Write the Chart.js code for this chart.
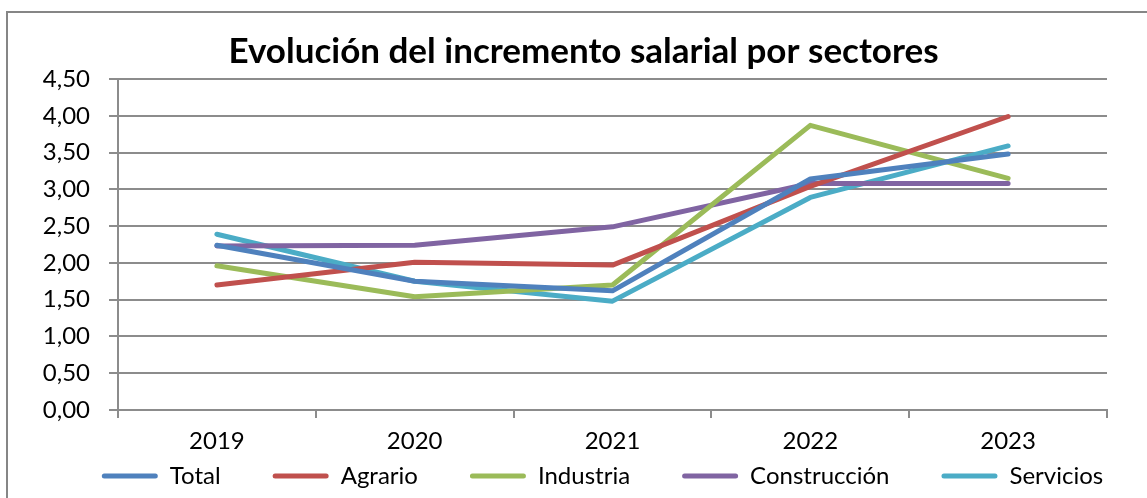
<!DOCTYPE html>
<html>
<head>
<meta charset="utf-8">
<script src="https://cdn.jsdelivr.net/npm/chart.js@4/dist/chart.umd.min.js"></script>
<style>
  html, body { margin: 0; padding: 0; background: #fff; }
  #frame { position: absolute; left: 6px; top: 11px; width: 1160px; height: 520px;
           border-left: 2px solid #868686; border-top: 2px solid #868686; }
  #wrap { position: absolute; left: 0; top: 0; width: 1147px; height: 498px; }
</style>
</head>
<body>
<div id="frame"></div>
<div id="wrap"><canvas id="c"></canvas></div>
<script>
const categories = ['2019', '2020', '2021', '2022', '2023'];
const seriesNames = ['Total', 'Agrario', 'Industria', 'Construcción', 'Servicios'];
const total        = [2.24, 1.75, 1.62, 3.14, 3.48];
const agrario      = [1.70, 2.01, 1.97, 3.04, 3.99];
const industria    = [1.96, 1.54, 1.70, 3.87, 3.15];
const construccion = [2.23, 2.24, 2.49, 3.08, 3.08];
const servicios    = [2.39, 1.75, 1.48, 2.89, 3.59];
const colors = ['#4F81BD', '#C0504D', '#9BBB59', '#8064A2', '#4BACC6'];
const titleText = 'Evolución del incremento salarial por sectores';

const values = [total, agrario, industria, construccion, servicios];
const FONT = 'Lato, "Liberation Sans", sans-serif';
const GRID = '#8c8c8c';
const LEGEND_PAD = 52;
const LEGEND_FONT = 24;

// Places the (library-drawn) title and legend row.
const blockPlacer = {
  id: 'blockPlacer',
  afterLayout(chart) {
    const tb = chart.titleBlock;
    if (tb) { tb.left += 30; tb.right += 30; }
    const lg = chart.legend;
    if (!lg) return;
    const dx = 49;
    lg.left += dx; lg.right += dx;
    const centerY = 476;
    lg.top = centerY - LEGEND_FONT / 2 - LEGEND_PAD;
  }
};

new Chart(document.getElementById('c'), {
  type: 'line',
  data: {
    labels: categories,
    datasets: seriesNames.map((n, i) => ({
      label: n,
      data: values[i],
      borderColor: colors[i],
      backgroundColor: colors[i],
      borderWidth: 5,
      borderCapStyle: 'round',
      borderJoinStyle: 'round',
      pointRadius: 0,
      tension: 0
    }))
  },
  plugins: [blockPlacer],
  options: {
    responsive: true,
    maintainAspectRatio: false,
    animation: false,
    layout: { padding: { left: 0, right: 40, top: 0, bottom: 0 } },
    plugins: {
      title: {
        display: true,
        text: titleText,
        color: '#000',
        font: { family: FONT, size: 35, weight: 'bold' },
        padding: { top: 31, bottom: 6 }
      },
      legend: {
        position: 'bottom',
        maxHeight: 40,
        labels: {
          color: '#000',
          font: { family: FONT, size: LEGEND_FONT },
          boxWidth: 56,
          boxHeight: 5,
          padding: LEGEND_PAD,
          generateLabels: (chart) => chart.data.datasets.map((d, i) => ({
            text: d.label,
            fillStyle: d.borderColor,
            strokeStyle: d.borderColor,
            lineWidth: 0,
            borderRadius: 2.5,
            datasetIndex: i,
            hidden: false,
            fontColor: '#000'
          }))
        }
      },
      tooltip: { enabled: false }
    },
    scales: {
      x: {
        offset: true,
        grid: { offset: true, drawOnChartArea: false, drawTicks: true, tickLength: 8, color: GRID, lineWidth: 2 },
        border: { color: GRID, width: 2 },
        ticks: { color: '#000', font: { family: FONT, size: 24 }, padding: 9 },
        afterFit: (s) => { s.height = 48; }
      },
      y: {
        min: 0, max: 4.5,
        ticks: {
          stepSize: 0.5,
          color: '#000',
          font: { family: FONT, size: 24 },
          padding: 19,
          callback: (v) => v.toFixed(2).replace('.', ',')
        },
        grid: { color: GRID, lineWidth: 2, drawTicks: true, tickLength: 9 },
        border: { color: GRID, width: 2 },
        afterFit: (s) => { s.width = 118; }
      }
    }
  }
});
</script>
</body>
</html>
